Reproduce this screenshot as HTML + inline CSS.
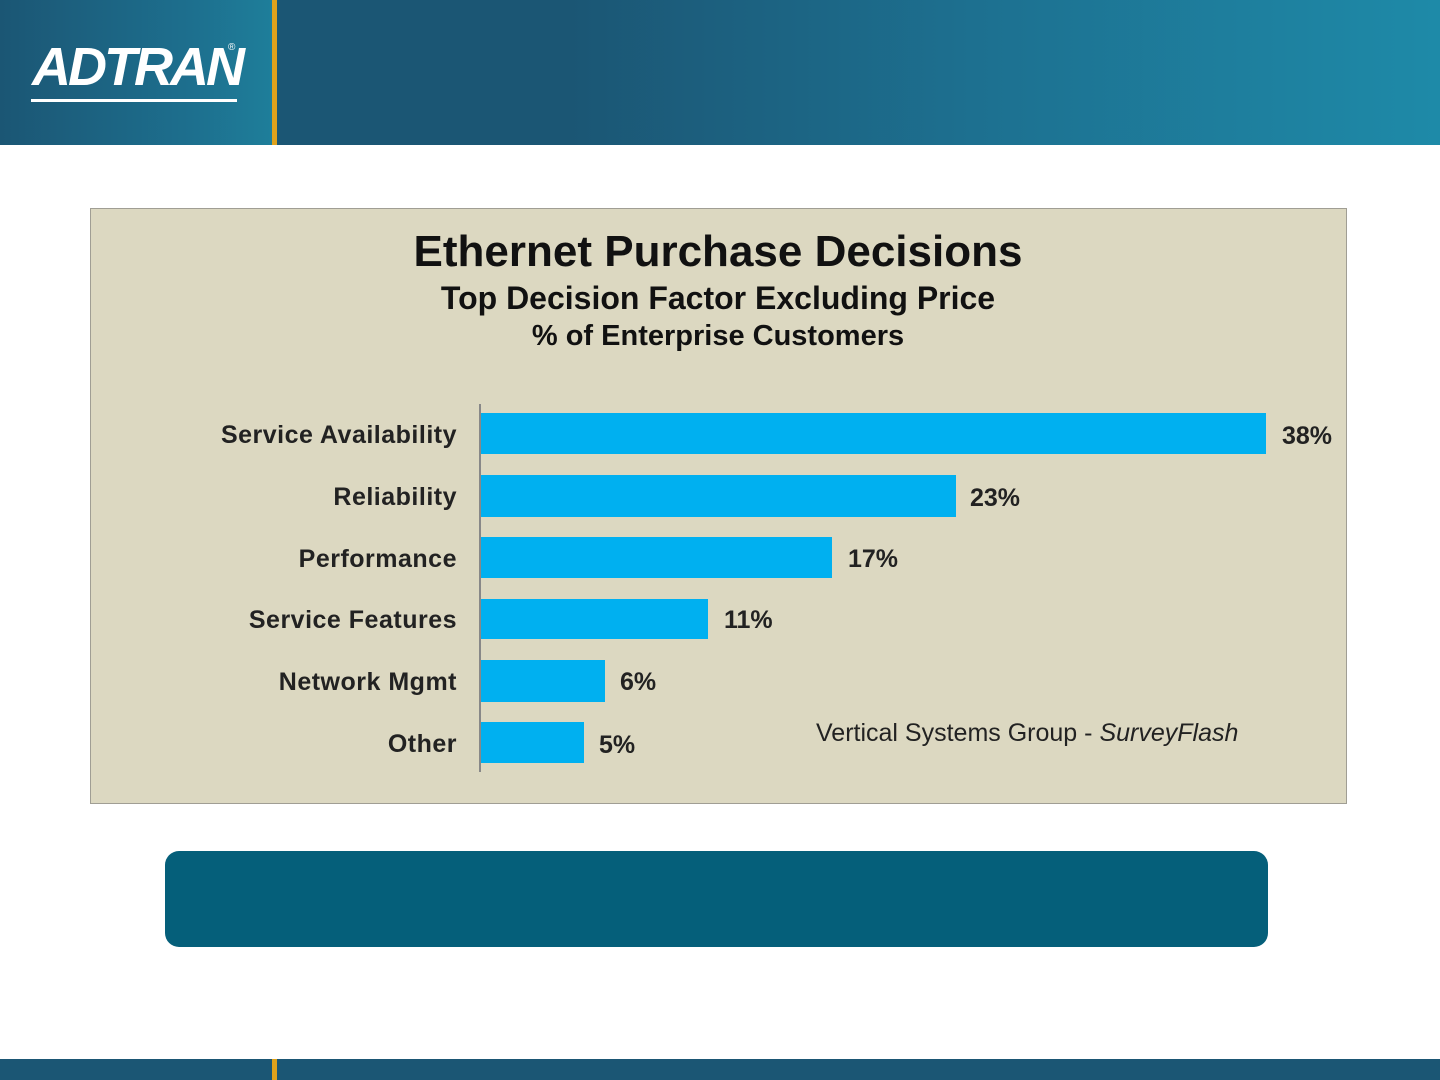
<!DOCTYPE html>
<html><head><style>
body{margin:0;width:1440px;height:1080px;position:relative;background:#fff;font-family:"Liberation Sans",sans-serif;overflow:hidden}
.hdr{position:absolute;left:0;top:0;width:1440px;height:145px}
.hl{position:absolute;left:0;top:0;width:272px;height:145px;background:linear-gradient(90deg,#1b5674,#1d6f8e 70%,#1e7e9a)}
.hr{position:absolute;left:277px;top:0;width:1163px;height:145px;background:linear-gradient(90deg,#1b5674,#1b5674 25%,#1d7090 60%,#1e8aa8)}
.gold{position:absolute;left:272px;width:5px;background:#e0a21c}
.ftr{position:absolute;left:0;top:1059px;width:1440px;height:21px;background:#1b5674}
.panel{position:absolute;left:90px;top:208px;width:1255px;height:594px;background:#dcd8c1;border:1px solid #a09e94}
.t{position:absolute;left:0;width:1440px;text-align:center;font-weight:bold;color:#111}
.lbl{position:absolute;right:983px;font-size:25px;font-weight:bold;color:#222;letter-spacing:0.5px;text-align:right;white-space:nowrap}
.bar{position:absolute;left:481px;background:#00b0f0}
.val{position:absolute;font-size:25px;font-weight:bold;color:#222}
</style></head><body>
<div class="hdr"><div class="hl"></div><div class="hr"></div></div>
<div class="gold" style="top:0;height:145px"></div>
<div style="position:absolute;left:32px;top:40px;font-size:54px;font-weight:bold;color:#fff;letter-spacing:-3px;font-style:italic;line-height:54px">ADTRAN</div>
<div style="position:absolute;left:31px;top:99px;width:206px;height:3px;background:#fff"></div>
<div style="position:absolute;left:228px;top:42px;font-size:10px;color:#fff">®</div>
<div class="ftr"></div><div class="gold" style="top:1059px;height:21px"></div>
<div class="panel"></div>
<div class="t" style="top:227px;font-size:44px;left:-2px">Ethernet Purchase Decisions</div>
<div class="t" style="top:280px;font-size:32px;left:-2px">Top Decision Factor Excluding Price</div>
<div class="t" style="top:320px;font-size:29px;left:-2px">% of Enterprise Customers</div>
<div style="position:absolute;left:479px;top:404px;width:2px;height:368px;background:#888"></div>
<div class="lbl" style="top:421px">Service Availability</div>
<div class="lbl" style="top:483px">Reliability</div>
<div class="lbl" style="top:545px">Performance</div>
<div class="lbl" style="top:606px">Service Features</div>
<div class="lbl" style="top:668px">Network Mgmt</div>
<div class="lbl" style="top:730px">Other</div>
<div class="bar" style="top:413px;width:785px;height:41px"></div>
<div class="bar" style="top:475px;width:475px;height:42px"></div>
<div class="bar" style="top:537px;width:351px;height:41px"></div>
<div class="bar" style="top:599px;width:227px;height:40px"></div>
<div class="bar" style="top:660px;width:124px;height:42px"></div>
<div class="bar" style="top:722px;width:103px;height:41px"></div>
<div class="val" style="left:1282px;top:422px">38%</div>
<div class="val" style="left:970px;top:484px">23%</div>
<div class="val" style="left:848px;top:545px">17%</div>
<div class="val" style="left:724px;top:606px">11%</div>
<div class="val" style="left:620px;top:668px">6%</div>
<div class="val" style="left:599px;top:731px">5%</div>
<div style="position:absolute;left:816px;top:719px;font-size:25px;color:#222">Vertical Systems Group - <i>SurveyFlash</i></div>
<div style="position:absolute;left:165px;top:851px;width:1103px;height:96px;background:#055f7a;border-radius:14px"></div>
</body></html>
